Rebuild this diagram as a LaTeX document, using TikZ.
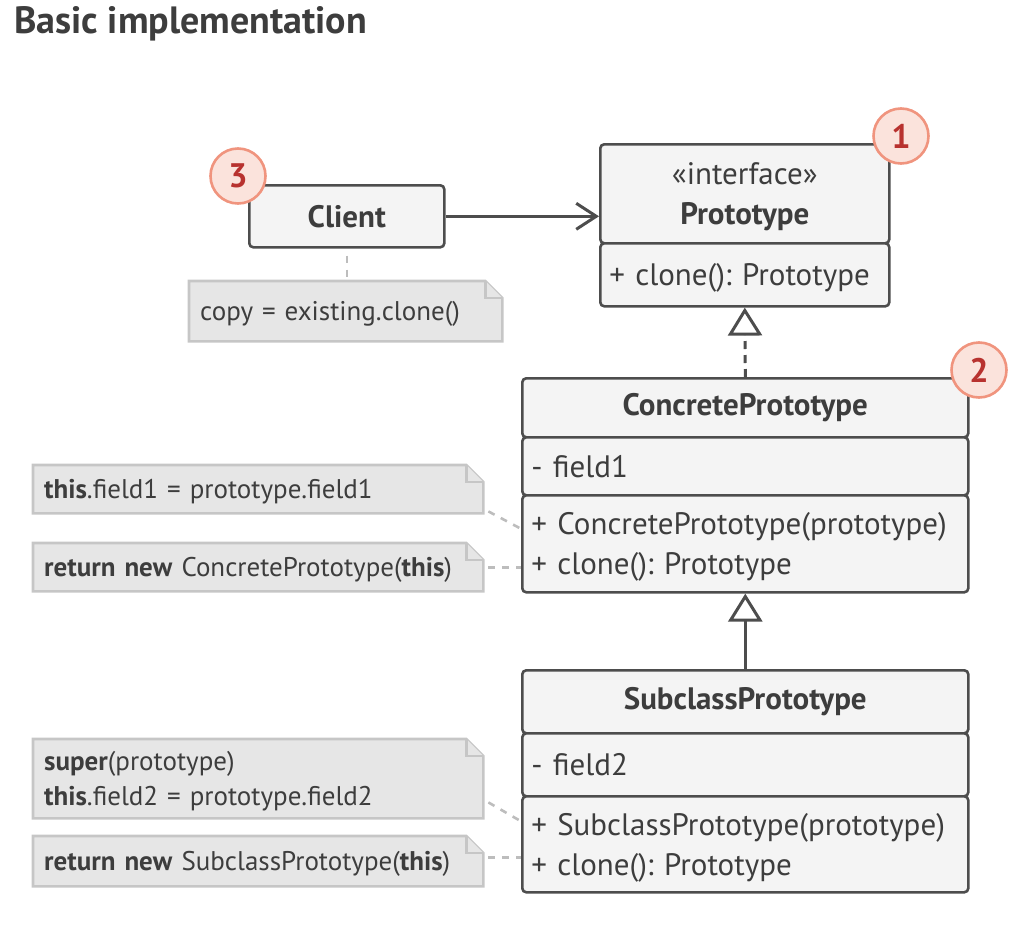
\documentclass[tikz,border=0pt]{standalone}
\usepackage{fontspec}
\setmainfont{PT Sans}
\frenchspacing
\usetikzlibrary{arrows.meta, calc, backgrounds}
\definecolor{edge}{HTML}{4D4D4D}
\definecolor{boxbg}{HTML}{F4F4F4}
\definecolor{notebg}{HTML}{E6E6E6}
\definecolor{noteline}{HTML}{C6C6C6}
\definecolor{ink}{HTML}{3D3D3D}
\definecolor{badgebg}{HTML}{FBE3DC}
\definecolor{badgeline}{HTML}{F0947E}
\definecolor{badgeink}{HTML}{B8322F}
\definecolor{linkgray}{HTML}{BDBDBD}
\newcommand\clsfont{\fontsize{31}{40}\selectfont}
\newcommand\notefont{\fontsize{27}{35}\selectfont}
\tikzset{
    comp/.style = {draw=edge, fill=boxbg, line width=2.6pt, rounded corners=4pt,
        anchor=north west, inner xsep=9pt, inner ysep=0pt, text=ink,
        font=\clsfont, align=left, text depth=0pt},
    head/.style = {comp, align=center, font=\clsfont\bfseries, text depth=},
    wide/.style = {text width=428pt},
    narrow/.style = {text width=271pt},
    note/.style = {anchor=north west, inner xsep=11pt, inner ysep=0pt,
        text width=428pt, align=left, text=ink, font=\notefont, text depth=0pt},
    fold/.style = {draw=noteline, fill=notebg, line width=2.6pt},
    badge/.style = {circle, draw=badgeline, fill=badgebg, line width=2.6pt,
        minimum size=55pt, inner sep=0pt, text=badgeink,
        font=\fontsize{34}{34}\selectfont\bfseries},
    assoc/.style = {draw=edge, line width=3pt, -{Straight Barb[length=20pt, width=26pt]}},
    inherit/.style = {draw=edge, line width=3pt, -{Triangle[open, length=28pt, width=34pt]}},
    realize/.style = {inherit, dash pattern=on 8pt off 6pt},
    link/.style = {draw=linkgray, line width=2.6pt, dash pattern=on 7pt off 7pt},
}
\newcommand\dogear[1]{%
    \begin{pgfonlayer}{background}
    \filldraw[fold] (#1.south west) -- (#1.north west) -- ([xshift=-17pt]#1.north east)
        -- ([yshift=-17pt]#1.north east) -- (#1.south east) -- cycle;
    \draw[fold] ([xshift=-17pt]#1.north east) |- ([yshift=-17pt]#1.north east);
    \end{pgfonlayer}}

\begin{document}
\begin{tikzpicture}[x=1pt, y=-1pt]
\useasboundingbox (0,0) rectangle (1021,932);

\node[anchor=base west, inner sep=0pt, text=ink, font=\fontsize{38}{38}\selectfont\bfseries] (title) at (14,33) {Basic implementation};

\node[head, text width=177pt, minimum height=62pt] (client) at (248,184) {Client};
\node[note, text width=291pt, minimum height=60pt] (n0) at (189,281) {copy = existing.clone()};
\dogear{n0}

\node[head, narrow, minimum height=99pt, text depth=40pt] (pr-h) at (599,143) {{\mdseries «interface»}\\Prototype};
\node[comp, narrow, minimum height=63pt] (pr-m) at (599,242) {+ clone(): Prototype};

\node[head, wide, minimum height=59pt] (cp-h) at (521,377) {ConcretePrototype};
\node[comp, wide, minimum height=58pt] (cp-f) at (521,436) {- field1};
\node[comp, wide, minimum height=97pt, text depth=40pt] (cp-m) at (521,494) {+ ConcretePrototype(prototype)\\+ clone(): Prototype};

\node[head, wide, minimum height=63pt] (sp-h) at (521,669) {SubclassPrototype};
\node[comp, wide, minimum height=63pt] (sp-f) at (521,732) {- field2};
\node[comp, wide, minimum height=96pt, text depth=40pt] (sp-m) at (521,795) {+ SubclassPrototype(prototype)\\+ clone(): Prototype};

\node[note, minimum height=48pt] (n1) at (33,465) {\textbf{this}.field1 = prototype.field1};
\dogear{n1}
\node[note, minimum height=48pt] (n2) at (33,543) {\textbf{return new} ConcretePrototype(\textbf{this})};
\dogear{n2}
\node[note, minimum height=79pt, text depth=35pt] (n3) at (33,739) {\textbf{super}(prototype)\\\textbf{this}.field2 = prototype.field2};
\dogear{n3}
\node[note, minimum height=50pt] (n4) at (33,836) {\textbf{return new} SubclassPrototype(\textbf{this})};
\dogear{n4}

\draw[assoc] (client.east) -- (client.east -| pr-h.west);
\draw[realize] (cp-h.north) -- (pr-m.south);
\draw[inherit] (sp-h.north) -- (cp-m.south);

\draw[link, dash phase=7pt] (client.south) -- (n0.north -| client.south);
\draw[link] ([xshift=5pt,yshift=2pt]n1.south east) -- ([yshift=15pt]cp-m.west);
\draw[link] ([xshift=5pt]n2.east) -- (n2.east -| cp-m.west);
\draw[link] ([xshift=5pt,yshift=16pt]n3.south east) -- ([yshift=23pt]sp-m.west);
\draw[link] ([xshift=5pt,yshift=4pt]n4.east) -- ([yshift=4pt]n4.east -| sp-m.west);

\node[badge] (b1) at (901,136) {1};
\node[badge] (b2) at (979,370) {2};
\node[badge] (b3) at (238,176) {3};
\end{tikzpicture}
\end{document}
